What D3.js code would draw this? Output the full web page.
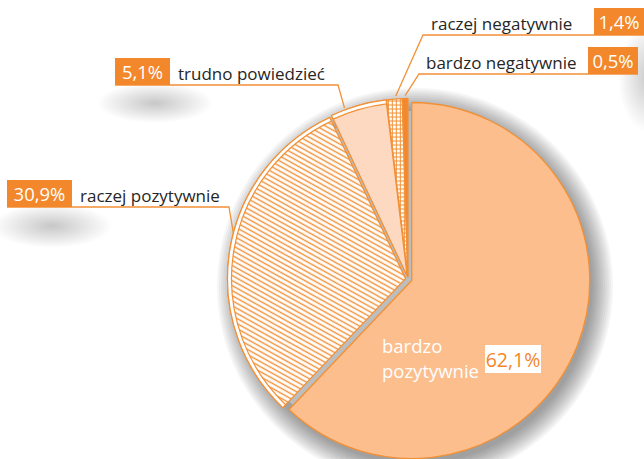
<!DOCTYPE html>
<html>
<head>
<meta charset="utf-8">
<script src="https://cdn.jsdelivr.net/npm/d3@7"></script>
<style>
  body { margin: 0; background: #fff; }
  svg { display: block; font-family: "Open Sans", sans-serif; }
</style>
</head>
<body>
<div id="chart"></div>
<script>
'use strict';

// data
var categories = ['bardzo pozytywnie', 'raczej pozytywnie', 'trudno powiedzieć', 'raczej negatywnie', 'bardzo negatywnie'];
var values = [62.1, 30.9, 5.1, 1.4, 0.5];
var valueLabels = ['62,1%', '30,9%', '5,1%', '1,4%', '0,5%'];

var W = 644, H = 459;
var cx = 408, cy = 279, R = 178;
var orange = '#f3872b', line = '#f29036';

var svg = d3.select('#chart').append('svg')
    .attr('width', W)
    .attr('height', H);

var defs = svg.append('defs');

// soft label shadows drawn with a radial gradient
var glow = defs.append('radialGradient').attr('id', 'labelShadow');
glow.append('stop').attr('offset', 0).attr('stop-color', '#000').attr('stop-opacity', 0.22);
glow.append('stop').attr('offset', 1).attr('stop-color', '#000').attr('stop-opacity', 0);

// hatch for "raczej pozytywnie"
var hatch = defs.append('pattern').attr('id', 'hatch')
    .attr('patternUnits', 'userSpaceOnUse')
    .attr('width', 8).attr('height', 4.4)
    .attr('patternTransform', 'rotate(29)');
hatch.append('rect').attr('width', 8).attr('height', 4.4).attr('fill', '#fff');
hatch.append('line').attr('x1', 0).attr('x2', 8).attr('y1', 2.2).attr('y2', 2.2)
    .attr('stroke', line).attr('stroke-width', 1.4);

// grid for "raczej negatywnie"
var grid = defs.append('pattern').attr('id', 'grid')
    .attr('patternUnits', 'userSpaceOnUse')
    .attr('width', 4).attr('height', 4);
grid.append('rect').attr('width', 4).attr('height', 4).attr('fill', '#fff');
grid.append('path').attr('d', 'M0,0.5H4M0.5,0V4')
    .attr('stroke', line).attr('stroke-width', 1);

var fills = ['#fbbe8c', 'url(#hatch)', '#fcd9c0', 'url(#grid)', orange];

// label shadows
var shadowG = svg.append('g').attr('fill', 'url(#labelShadow)');
shadowG.append('ellipse').attr('cx', 52).attr('cy', 226).attr('rx', 60).attr('ry', 22);
shadowG.append('ellipse').attr('cx', 155).attr('cy', 103).attr('rx', 58).attr('ry', 20);
shadowG.append('ellipse').attr('cx', 650).attr('cy', 78).attr('rx', 32).attr('ry', 55);

var pie = d3.pie().sort(null).value(function(d) { return d; });
var arcs = pie(values);

var arc = d3.arc().innerRadius(0).outerRadius(R);
var rim = d3.arc().innerRadius(R - 4).outerRadius(R);

function offset(d, i) {
    var a = (d.startAngle + d.endAngle) / 2;
    var k = i === 0 ? 4 : 2.5;
    return [Math.sin(a) * k, -Math.cos(a) * k];
}

// pie shadow: stacked translucent discs
var rings = d3.range(0, 22, 2);
svg.append('g').selectAll('circle').data(rings).join('circle')
    .attr('cx', cx + 7).attr('cy', cy + 7)
    .attr('r', function(k) { return R + k; })
    .attr('fill', '#000')
    .attr('fill-opacity', 0.04);
svg.append('circle')
    .attr('cx', cx + 1).attr('cy', cy + 2).attr('r', R - 8)
    .attr('fill', '#bdbdbd');

var slices = svg.append('g').attr('transform', 'translate(' + cx + ',' + cy + ')')
    .selectAll('g').data(arcs).join('g')
    .attr('transform', function(d, i) { return 'translate(' + offset(d, i) + ')'; });

slices.append('path')
    .attr('d', arc)
    .attr('fill', function(d, i) { return fills[i]; })
    .attr('stroke', line)
    .attr('stroke-width', 1.3)
    .attr('stroke-linejoin', 'round');

slices.filter(function(d, i) { return i === 1 || i === 2; })
    .append('path')
    .attr('d', rim)
    .attr('fill', '#fff')
    .attr('stroke', line)
    .attr('stroke-width', 1.2);

// outside labels: box, text, leader line; positions are layout only
var layout = [
    null,
    { bx: 7, by: 180, bw: 65, tx: 80, lineEnd: 229, frac: 0.55, rr: 0 },
    { bx: 115, by: 58, bw: 55, tx: 178, lineEnd: 338, frac: 0.26, rr: 2 },
    { bx: 594, by: 8, bw: 50, tx: 431, lineStart: 423, frac: 0.6, rr: 3, right: true },
    { bx: 588, by: 47, bw: 50, tx: 426, lineStart: 419, frac: 0.5, rr: 3, right: true }
];
var BH = 27;

var labels = svg.append('g');
arcs.forEach(function(d, i) {
    var L = layout[i];
    if (!L) return;
    var a = d.startAngle + (d.endAngle - d.startAngle) * L.frac;
    var off = offset(d, i);
    var px = cx + off[0] + Math.sin(a) * (R + L.rr);
    var py = cy + off[1] - Math.cos(a) * (R + L.rr);
    var ly = L.by + BH;
    var pts;
    if (L.right) {
        pts = [[L.bx + L.bw, ly], [L.lineStart, ly], [px, py]];
    } else {
        pts = [[L.bx, ly], [L.lineEnd, ly], [px, py]];
    }
    labels.append('path')
        .attr('d', d3.line()(pts))
        .attr('fill', 'none')
        .attr('stroke', line)
        .attr('stroke-width', 1.3);
    labels.append('rect')
        .attr('x', L.bx).attr('y', L.by)
        .attr('width', L.bw).attr('height', BH)
        .attr('fill', orange);
    labels.append('text')
        .attr('x', L.bx + L.bw / 2).attr('y', L.by + 20.5)
        .attr('text-anchor', 'middle')
        .attr('fill', '#fff')
        .attr('font-size', 18.5)
        .text(valueLabels[i]);
    labels.append('text')
        .attr('x', L.tx).attr('y', L.by + 22)
        .attr('fill', '#262626')
        .attr('font-size', 17)
        .text(categories[i]);
});

// inside label for the big slice
var words = categories[0].split(' ');
labels.append('text')
    .attr('x', 382).attr('y', 353)
    .attr('fill', '#fff')
    .attr('font-size', 18.5)
    .selectAll('tspan').data(words).join('tspan')
    .attr('x', 382)
    .attr('dy', function(w, j) { return j === 0 ? 0 : 25; })
    .text(function(w) { return w; });
labels.append('rect')
    .attr('x', 485).attr('y', 345).attr('width', 56).attr('height', 28)
    .attr('fill', '#fff');
labels.append('text')
    .attr('x', 513).attr('y', 367)
    .attr('text-anchor', 'middle')
    .attr('fill', orange)
    .attr('font-size', 19.5)
    .text(valueLabels[0]);
</script>
</body>
</html>
